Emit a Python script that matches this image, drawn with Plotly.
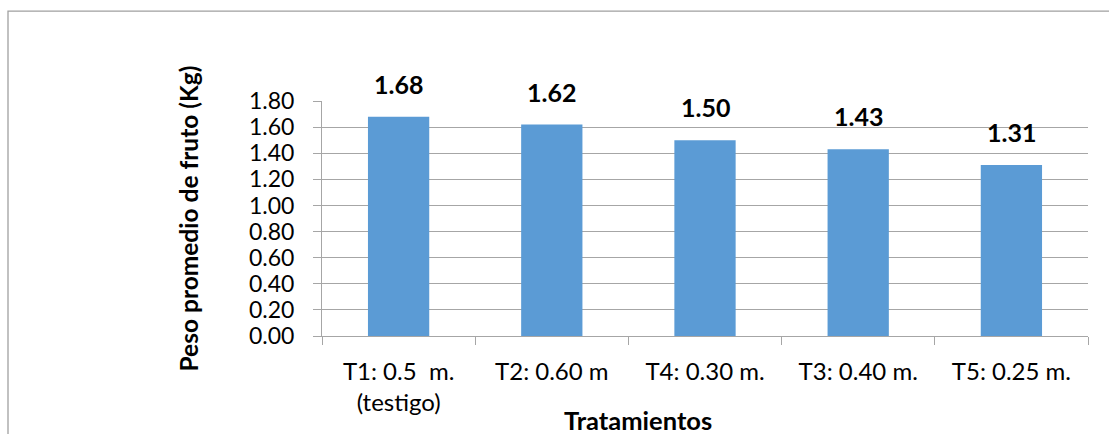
import plotly.graph_objects as go

# Average fruit weight per treatment
categorias = ["T1: 0.5  m.<br>(testigo)", "T2: 0.60 m", "T4: 0.30 m.", "T3: 0.40 m.", "T5: 0.25 m."]
peso = [1.68, 1.62, 1.50, 1.43, 1.31]
y_ticks = [0.0, 0.2, 0.4, 0.6, 0.8, 1.0, 1.2, 1.4, 1.6, 1.8]

FONT = "Lato, Carlito, Calibri, sans-serif"
GRID = "#a6a6a6"
BAR = "#5b9bd5"

fig = go.Figure(
    go.Bar(
        x=categorias,
        y=peso,
        marker=dict(color=BAR, line=dict(width=0)),
        showlegend=False,
        hoverinfo="x+y",
    )
)

# value labels above each bar
for cat, val in zip(categorias, peso):
    fig.add_annotation(
        x=cat, y=val, xref="x", yref="y",
        text=f"<b>{val:.2f}</b>",
        showarrow=False, yanchor="bottom", yshift=16,
        font=dict(family=FONT, size=25, color="#000000"),
    )

# axis titles
fig.add_annotation(
    x=0, y=0.5, xref="paper", yref="paper", xshift=-134,
    text="<b>Peso promedio de fruto (Kg)</b>", textangle=-90,
    showarrow=False, xanchor="center", yanchor="middle",
    font=dict(family=FONT, size=24.5, color="#000000"),
)
fig.add_annotation(
    x=(638 - 322) / 766, y=0, xref="paper", yref="paper", yshift=-84,
    text="<b>Tratamientos</b>", showarrow=False,
    xanchor="center", yanchor="middle",
    font=dict(family=FONT, size=25.5, color="#000000"),
)

# outer chart frame
fig.add_shape(
    type="rect", xref="paper", yref="paper",
    x0=-314 / 766, x1=1.1, y0=-0.6, y1=1 + 90 / 235.3,
    line=dict(color="#a0a0a0", width=1.3), fillcolor="rgba(0,0,0,0)",
    layer="below",
)

fig.update_layout(
    width=1109, height=434,
    margin=dict(l=322, r=21, t=101, b=98),
    paper_bgcolor="white", plot_bgcolor="white",
    bargap=0.6,
    font=dict(family=FONT, size=23, color="#000000"),
    xaxis=dict(
        type="category",
        showline=True, linecolor=GRID, linewidth=1,
        ticks="outside", ticklen=8, tickcolor=GRID, tickson="boundaries",
        showgrid=False, ticklabelstandoff=14,
        tickfont=dict(family=FONT, size=24, color="#000000"),
    ),
    yaxis=dict(
        range=[0, 1.8],
        tickvals=y_ticks,
        ticktext=[f"{v:.2f}" for v in y_ticks],
        showline=True, linecolor=GRID, linewidth=1,
        ticks="outside", ticklen=8, tickcolor=GRID,
        showgrid=True, gridcolor=GRID, gridwidth=1,
        zeroline=False, ticklabelstandoff=14,
        tickfont=dict(family=FONT, size=23, color="#000000"),
    ),
)

fig.write_html("out.html")
